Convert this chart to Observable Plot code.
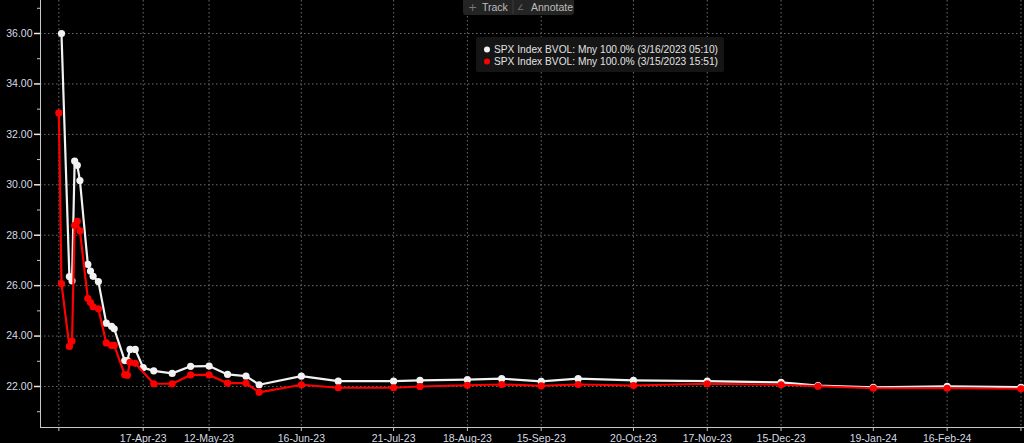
<!DOCTYPE html>
<html><head><meta charset="utf-8">
<script src="https://cdn.jsdelivr.net/npm/d3@7"></script>
<script src="https://cdn.jsdelivr.net/npm/@observablehq/plot@0.6"></script>
<style>
html,body{margin:0;padding:0;background:#000;overflow:hidden}
#chart{position:relative;width:1024px;height:443px}
</style></head><body><div id="chart"></div>
<script>
// ---- data ----
const seriesLabels = [
  "SPX Index BVOL: Mny 100.0% (3/16/2023 05:10)",
  "SPX Index BVOL: Mny 100.0% (3/15/2023 15:51)"
];
const seriesColors = ["#f2f2f2", "#ff0000"];

const whiteDates = ["2023-03-17","2023-03-20","2023-03-21","2023-03-22","2023-03-23","2023-03-24","2023-03-27","2023-03-28","2023-03-29","2023-03-31","2023-04-03","2023-04-05","2023-04-06","2023-04-10","2023-04-11","2023-04-12","2023-04-14","2023-04-17","2023-04-21","2023-04-28","2023-05-05","2023-05-12","2023-05-19","2023-05-26","2023-05-31","2023-06-16","2023-06-30","2023-07-21","2023-07-31","2023-08-18","2023-08-31","2023-09-15","2023-09-29","2023-10-20","2023-11-17","2023-12-15","2023-12-29","2024-01-19","2024-02-16","2024-03-15"];
const whiteValues = [36.00,26.36,26.19,30.94,30.77,30.17,26.84,26.58,26.37,26.16,24.51,24.39,24.29,23.03,23.03,23.47,23.47,22.75,22.62,22.52,22.80,22.81,22.48,22.41,22.07,22.41,22.21,22.21,22.24,22.27,22.31,22.20,22.31,22.24,22.21,22.16,22.04,21.97,22.01,21.97];

const redDates = ["2023-03-16","2023-03-17","2023-03-20","2023-03-21","2023-03-22","2023-03-23","2023-03-24","2023-03-27","2023-03-28","2023-03-29","2023-03-31","2023-04-03","2023-04-05","2023-04-06","2023-04-10","2023-04-11","2023-04-12","2023-04-14","2023-04-21","2023-04-28","2023-05-05","2023-05-12","2023-05-19","2023-05-26","2023-05-31","2023-06-16","2023-06-30","2023-07-21","2023-07-31","2023-08-18","2023-08-31","2023-09-15","2023-09-29","2023-10-20","2023-11-17","2023-12-15","2023-12-29","2024-01-19","2024-02-16","2024-03-15"];
const redValues = [32.85,26.08,23.59,23.80,28.39,28.55,28.17,25.49,25.33,25.16,25.08,23.73,23.63,23.63,22.47,22.45,22.96,22.92,22.11,22.11,22.46,22.46,22.13,22.13,21.77,22.07,21.95,21.95,22.00,22.05,22.08,22.03,22.08,22.04,22.11,22.07,22.01,21.93,21.93,21.91];

const xTickDates = ["2023-04-17","2023-05-12","2023-06-16","2023-07-21","2023-08-18","2023-09-15","2023-10-20","2023-11-17","2023-12-15","2024-01-19","2024-02-16"];
const xEdgeGridDates = ["2023-03-16","2024-03-15"];
const yMajorTicks = [22,24,26,28,30,32,34,36];
const yMinorTicks = [21,23,25,27,29,31,33,35,37];
const toolbarItems = ["Track","Annotate"];

// ---- build ----
const parse = d3.utcParse("%Y-%m-%d");
const white = whiteDates.map((d,i)=>({date:parse(d), value:whiteValues[i]}));
const red = redDates.map((d,i)=>({date:parse(d), value:redValues[i]}));
const xTicks = xTickDates.map(parse);
const xEdge = xEdgeGridDates.map(parse);
const allGrid = xEdge.concat(xTicks);
const fmt = d3.utcFormat("%d-%b-%y");

const axisColor = "#c8c8c8";
const gridStyle = {stroke:"#6a6a6a", strokeOpacity:1, strokeDasharray:"1.5,2.5", strokeWidth:1};

const chart = Plot.plot({
  width:1024, height:443,
  marginLeft:40, marginRight:0, marginTop:0, marginBottom:16,
  style:{background:"#000", color:"#d6dbe3", fontFamily:"'Liberation Sans', Arial, sans-serif", fontSize:"10.5px"},
  x:{type:"utc", domain:[new Date(Date.UTC(2023,2,9,1)), new Date(Date.UTC(2024,2,16,8,24))]},
  y:{domain:[20.374, 37.309]},
  marks:[
    Plot.gridY(yMajorTicks, gridStyle),
    Plot.gridX(allGrid, gridStyle),
    Plot.axisY(yMajorTicks, {tickSize:6, tickPadding:2, tickFormat:d=>d.toFixed(2), stroke:"#e8e8e8", strokeWidth:1.5, label:null}),
    Plot.axisY(yMinorTicks, {tickSize:3, tickFormat:()=>"", stroke:axisColor, label:null}),
    Plot.axisX(xTicks, {tickSize:4, tickPadding:3, tickFormat:fmt, stroke:axisColor, label:null}),
    Plot.axisX(xEdge, {tickSize:4, tickFormat:()=>"", stroke:axisColor, label:null}),
    Plot.frame({anchor:"left", stroke:axisColor}),
    Plot.frame({anchor:"bottom", stroke:axisColor}),
    Plot.line(white, {x:"date", y:"value", stroke:seriesColors[0], strokeWidth:2.2}),
    Plot.dot(white, {x:"date", y:"value", fill:seriesColors[0], r:3.6}),
    Plot.line(red, {x:"date", y:"value", stroke:seriesColors[1], strokeWidth:2.2}),
    Plot.dot(red, {x:"date", y:"value", fill:seriesColors[1], r:3.6})
  ]
});
document.getElementById("chart").appendChild(chart);

// ---- toolbar & legend (overlay inside the svg) ----
const svg = d3.select(chart);
const tb = svg.append("g").attr("text-anchor","start");
tb.append("rect").attr("x",463).attr("y",-4).attr("width",111).attr("height",19).attr("rx",3).attr("fill","#242424");
tb.append("line").attr("x1",513).attr("x2",513).attr("y1",0).attr("y2",14).attr("stroke","#3a3a3a");
tb.append("text").attr("x",468).attr("y",7).attr("dy","0.35em").attr("fill","#777").style("font","11px 'DejaVu Sans', sans-serif").text("+");
tb.append("text").attr("x",482).attr("y",7).attr("dy","0.35em").attr("fill","#bdbdbd").style("font","10.5px 'Liberation Sans', sans-serif").text(toolbarItems[0]);
tb.append("text").attr("x",517).attr("y",7).attr("dy","0.35em").attr("fill","#777").style("font","8px 'DejaVu Sans', sans-serif").text("∠");
tb.append("text").attr("x",531).attr("y",7).attr("dy","0.35em").attr("fill","#bdbdbd").style("font","10.5px 'Liberation Sans', sans-serif").text(toolbarItems[1]);

const lg = svg.append("g").attr("text-anchor","start");
lg.append("rect").attr("x",476).attr("y",37).attr("width",248).attr("height",35).attr("rx",2).attr("fill","#151515");
seriesLabels.forEach((label,i)=>{
  const cy = 49.5 + i*12;
  lg.append("circle").attr("cx",487).attr("cy",cy).attr("r",3).attr("fill",seriesColors[i]);
  lg.append("text").attr("x",494).attr("y",cy).attr("dy","0.35em")
    .attr("textLength",224).attr("lengthAdjust","spacingAndGlyphs")
    .attr("fill","#e2e2e2").style("font","10.5px 'Liberation Sans', sans-serif").text(label);
});
</script>
</body></html>
